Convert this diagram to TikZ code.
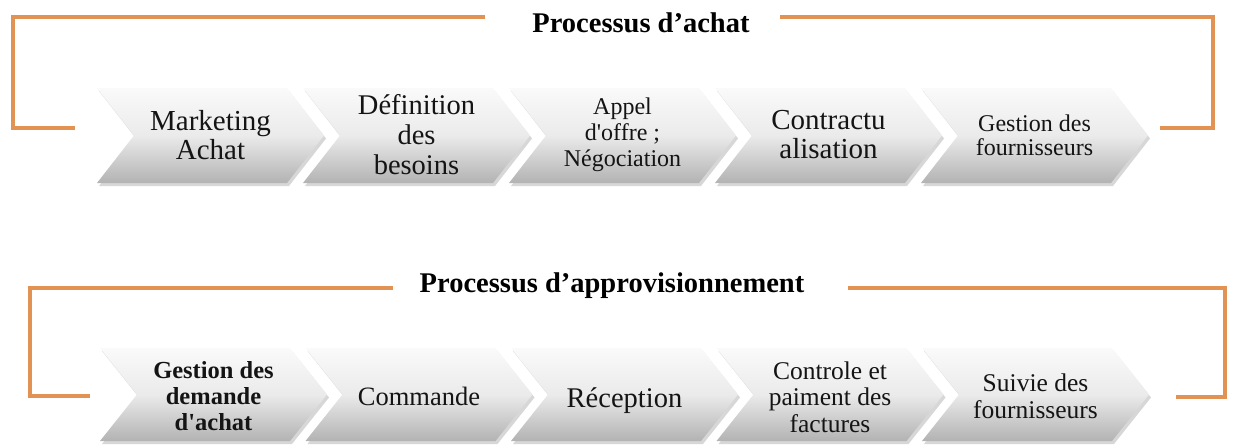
\documentclass[tikz,border=0pt]{standalone}
\usepackage{fontspec}
\setmainfont{Liberation Serif}
\usetikzlibrary{calc}

\definecolor{bracketorange}{RGB}{226,146,82}
\newcommand\sq{\textquotesingle}

\tikzset{
  bracket/.style={draw=bracketorange, line width=4.5pt, line cap=butt, line join=miter},
  chevfill/.style={top color=black!2, bottom color=black!30, middle color=black!8},
  chevshadow/.style={fill=black!45, opacity=0.35},
  steptext/.style={align=center, text=black!92, inner sep=0pt},
  titletext/.style={font=\bfseries\fontsize{28.5}{30}\selectfont, anchor=base, inner sep=0pt},
  pics/chevron/.style={code={
    \fill[chevshadow] (2,3) -- (192,3) -- (229,#1/2+3) -- (192,#1+3) -- (2,#1+3) -- (39,#1/2+3) -- cycle;
    \shade[chevfill] (0,0) -- (190,0) -- (227,#1/2) -- (190,#1) -- (0,#1) -- (37,#1/2) -- cycle;
  }}
}

\begin{document}
\begin{tikzpicture}[x=1pt, y=-1pt]
  \useasboundingbox (0,0) rectangle (1233,445);

  % ---------- Processus d'achat ----------
  \node[titletext] (tA) at (641,32) {Processus d’achat};
  \coordinate (aL0) at (485,17);
  \coordinate (aL1) at (75,128);
  \coordinate (aR0) at (780,17);
  \coordinate (aR1) at (1160,128);
  \draw[bracket] (aL0) -- (13,17) |- (aL1);
  \draw[bracket] (aR0) -- (1213,17) |- (aR1);

  \foreach \x in {97,303,509,715,921} { \pic at (\x,88) {chevron=95}; }

  \node[steptext, font=\fontsize{29}{29}\selectfont] (a1) at (210.5,135) {Marketing\\Achat};
  \node[steptext, font=\fontsize{28.5}{30}\selectfont] (a2) at (416.5,135) {Définition\\des\\besoins};
  \node[steptext, font=\fontsize{24}{26}\selectfont] (a3) at (622.5,135) {Appel\\d\sq offre ;\\Négociation};
  \node[steptext, font=\fontsize{29}{29}\selectfont] (a4) at (828.5,135) {Contractu\\alisation};
  \node[steptext, font=\fontsize{24}{24}\selectfont] (a5) at (1034.5,135) {Gestion des\\fournisseurs};

  % ---------- Processus d'approvisionnement ----------
  \node[titletext] (tB) at (612,292.5) {Processus d’approvisionnement};
  \coordinate (bL0) at (393,288);
  \coordinate (bL1) at (90,396);
  \coordinate (bR0) at (848,288);
  \coordinate (bR1) at (1176,397);
  \draw[bracket] (bL0) -- (30,288) |- (bL1);
  \draw[bracket] (bR0) -- (1225,288) |- (bR1);

  \foreach \x in {100,305.5,511,716.5,922} { \pic at (\x,348) {chevron=93}; }

  \node[steptext, font=\bfseries\fontsize{24.5}{26}\selectfont] (b1) at (213.5,396) {Gestion des\\demande\\d\sq achat};
  \node[steptext, font=\fontsize{26.5}{28}\selectfont] (b2) at (419,396) {Commande};
  \node[steptext, font=\fontsize{28.5}{30}\selectfont] (b3) at (624.5,401) {Réception};
  \node[steptext, font=\fontsize{25.5}{26.5}\selectfont] (b4) at (830,397) {Controle et\\paiment des\\factures};
  \node[steptext, font=\fontsize{25.5}{27}\selectfont] (b5) at (1035.5,396) {Suivie des\\fournisseurs};
\end{tikzpicture}
\end{document}
